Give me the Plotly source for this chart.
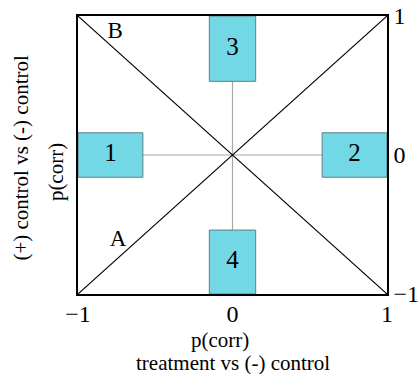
import plotly.graph_objects as go

# Data
box_labels = ["1", "2", "3", "4"]
box_x0 = [-1.0, 0.58, -0.15, -0.15]
box_x1 = [-0.58, 1.0, 0.15, 0.15]
box_y0 = [-0.16, -0.16, 0.53, -1.0]
box_y1 = [0.16, 0.16, 1.0, -0.54]

diag_a_x = [-1, 1]
diag_a_y = [-1, 1]
diag_b_x = [-1, 1]
diag_b_y = [1, -1]

line_labels = ["A", "B"]
line_label_x = [-0.74, -0.76]
line_label_y = [-0.61, 0.88]

xtick_vals = [-1, 0, 1]
ytick_vals = [-1, 0, 1]

x_title_lines = ["p(corr)", "treatment vs (-) control"]
y_title_lines = ["(+) control vs (-) control", "p(corr)"]

FONT = "Liberation Serif"
fig = go.Figure()

# gray connectors between opposite boxes
fig.add_trace(go.Scatter(x=[box_x1[0], box_x0[1]], y=[0, 0], mode="lines",
                         line=dict(color="#a8a8a8", width=1.2), hoverinfo="skip"))
fig.add_trace(go.Scatter(x=[0, 0], y=[box_y0[2], box_y1[3]], mode="lines",
                         line=dict(color="#a8a8a8", width=1.2), hoverinfo="skip"))

# diagonals
for dx, dy in [(diag_a_x, diag_a_y), (diag_b_x, diag_b_y)]:
    fig.add_trace(go.Scatter(x=dx, y=dy, mode="lines",
                             line=dict(color="black", width=1.1), hoverinfo="skip"))

# boxes
for lab, x0, x1, y0, y1 in zip(box_labels, box_x0, box_x1, box_y0, box_y1):
    fig.add_trace(go.Scatter(x=[x0, x1, x1, x0, x0], y=[y0, y0, y1, y1, y0],
                             mode="lines", fill="toself", fillcolor="#72d8e6",
                             line=dict(color="#5f7f86", width=1), hoverinfo="skip"))
    fig.add_trace(go.Scatter(x=[(x0 + x1) / 2], y=[(y0 + y1) / 2], mode="text",
                             text=[lab], textfont=dict(family=FONT, size=25, color="black"),
                             hoverinfo="skip"))

fig.add_trace(go.Scatter(x=line_label_x, y=line_label_y, mode="text", text=line_labels,
                         textfont=dict(family=FONT, size=23, color="black"), hoverinfo="skip"))

fig.update_layout(
    width=418, height=374,
    margin=dict(l=78, r=31, t=16, b=80),
    paper_bgcolor="white", plot_bgcolor="white",
    showlegend=False,
    font=dict(family=FONT, color="black"),
)
fig.update_xaxes(range=[-1, 1], tickvals=xtick_vals, showgrid=False, zeroline=False,
                 showline=True, linecolor="black", linewidth=1.5, mirror=True,
                 ticks="", tickfont=dict(family=FONT, size=24), automargin=False,
                 ticklabelstandoff=-3)
fig.update_yaxes(range=[-1, 1], tickvals=ytick_vals, side="right", showgrid=False,
                 zeroline=False, showline=True, linecolor="black", linewidth=1.5,
                 mirror=True, ticks="", tickfont=dict(family=FONT, size=24),
                 ticklabelstandoff=0, automargin=False)

# axis titles (two lines each)
fig.add_annotation(xref="paper", yref="paper", x=-0.073, y=0.44, xanchor="center",
                   yanchor="middle", textangle=-90, showarrow=False,
                   text=y_title_lines[1], font=dict(family=FONT, size=21, color="black"))
fig.add_annotation(xref="paper", yref="paper", x=-0.185, y=0.49, xanchor="center",
                   yanchor="middle", textangle=-90, showarrow=False,
                   text=y_title_lines[0], font=dict(family=FONT, size=21, color="black"))
fig.add_annotation(xref="paper", yref="paper", x=0.46, y=-0.165, xanchor="center",
                   yanchor="middle", showarrow=False,
                   text=x_title_lines[0], font=dict(family=FONT, size=21, color="black"))
fig.add_annotation(xref="paper", yref="paper", x=0.5, y=-0.247, xanchor="center",
                   yanchor="middle", showarrow=False,
                   text=x_title_lines[1], font=dict(family=FONT, size=21, color="black"))

fig.write_html("out.html", config={"displayModeBar": False},
               post_script="document.body.style.margin='0px';")
